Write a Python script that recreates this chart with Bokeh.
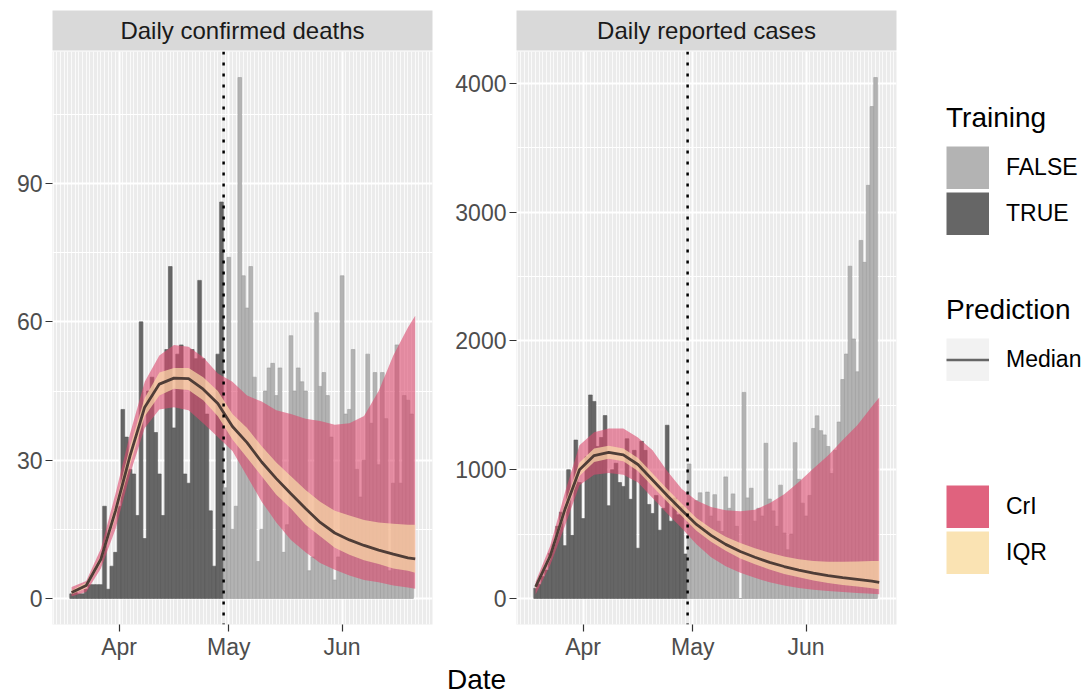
import pandas as pd
from bokeh.plotting import figure
from bokeh.models import (ColumnDataSource, FixedTicker, DatetimeTickFormatter, Range1d,
                          Span, Label, Legend, LegendItem)
from bokeh.layouts import row, column
from bokeh.core.properties import value
from bokeh.embed import file_html
from bokeh.resources import INLINE

FONT = "Liberation Sans"

# ---------------- data ----------------
first_day = "2020-03-19"
last_day = "2020-06-20"
n_training = 42
cutoff = "2020-04-29 14:00"

deaths_training = [1, 2, 1, 1, 2, 3, 3, 3, 3, 20, 2, 7, 10, 20, 41, 35, 28, 27, 18, 60,
                   13, 45, 48, 36, 27, 18, 54, 72, 37, 53, 55, 27, 25, 54, 52, 69, 52, 40,
                   19, 7, 53, 86]
deaths_testing = [24,
                  74, 15, 20, 113, 70, 63, 72, 48, 8, 15, 45, 50, 51, 44, 50, 10, 16, 57, 45,
                  50, 47, 45, 6, 9, 62, 46, 49, 44, 35, 4, 9,
                  70, 40, 41, 54, 28, 22, 30, 53, 38, 49, 29, 49, 39, 6, 25, 55, 25, 44, 43, 40]

cases_training = [80, 110, 170, 220, 350, 420, 560, 670, 410, 1000, 490, 1230, 900, 620,
                  1100, 1580, 1530, 1180, 1250, 1420, 720, 1000, 1050, 900, 870, 1240, 770,
                  1150, 390, 1220, 1150, 730, 660, 800, 530, 700, 1345, 600, 780, 650, 715, 345]
cases_testing = [1044, 620, 760, 820, 560, 826, 640, 806, 600, 520, 944, 700, 812, 560, 0,
                 1600, 781, 856, 600, 700, 640, 1205, 772, 680, 560, 880, 508, 378, 500, 1210,
                 925, 740, 640, 800, 1320, 1418, 1303, 1270, 1180, 970, 1150, 1370, 1700, 1898,
                 2580, 2015, 1760, 2780, 2610, 3208, 3820, 4045]

ribbon_dates = ["2020-03-19", "2020-03-23", "2020-03-27", "2020-03-31", "2020-04-04",
                "2020-04-08", "2020-04-12", "2020-04-16", "2020-04-20", "2020-04-24",
                "2020-04-28", "2020-05-02", "2020-05-06", "2020-05-10", "2020-05-14",
                "2020-05-18", "2020-05-22", "2020-05-26", "2020-05-30", "2020-06-03",
                "2020-06-07", "2020-06-11", "2020-06-15", "2020-06-19", "2020-06-21"]

deaths_median = [1.3, 2.8, 8.5, 19, 31, 41.5, 46.5, 47.8, 47.7, 45.4, 42.3, 37.3, 33.8, 29.6,
                 26, 22.7, 19.5, 16.5, 14.2, 12.7, 11.5, 10.5, 9.6, 8.8, 8.6]
deaths_iqr_lo = [0.9, 2.2, 7.7, 17.5, 29, 39.5, 44, 45.5, 45.2, 43, 39.5, 34.5, 30.5, 26.5,
                 22.5, 19.5, 16, 13.5, 11, 9.5, 8.3, 7.5, 6.5, 6, 5.6]
deaths_iqr_hi = [1.8, 3.4, 9.3, 20.5, 33, 43.5, 49, 50, 50, 48, 45, 40, 37, 33, 29.5, 26.5,
                 23.5, 21, 19, 18, 17, 16.5, 16.2, 16, 16]
deaths_cri_lo = [0.5, 1.4, 6.5, 15, 27, 37, 41, 41.5, 40.8, 38, 35, 32, 26.5, 21, 16.5, 12.7,
                 10, 7.7, 6.2, 5, 4, 3.5, 2.8, 2.4, 2.1]
deaths_cri_hi = [2.5, 3.8, 10.8, 22.7, 35.8, 47, 52.7, 55, 54.6, 52.3, 48.8, 47, 44, 42.7,
                 40.8, 40, 39, 38.5, 37.7, 38, 39.6, 45, 52.7, 58.8, 61.3]

cases_median = [90, 330, 690, 1000, 1110, 1135, 1115, 1040, 920, 800, 685, 575, 490, 420, 365,
                320, 280, 248, 220, 197, 178, 162, 148, 134, 125]
cases_iqr_lo = [75, 300, 645, 950, 1060, 1085, 1065, 990, 870, 750, 640, 525, 440, 370, 310,
                265, 225, 190, 165, 140, 120, 105, 92, 80, 72]
cases_iqr_hi = [110, 360, 735, 1055, 1165, 1185, 1165, 1090, 970, 850, 735, 625, 545, 480,
                430, 390, 355, 325, 305, 290, 285, 285, 287, 290, 290]
cases_cri_lo = [30, 260, 560, 880, 960, 975, 960, 900, 780, 660, 545, 420, 320, 250, 200, 160,
                125, 100, 82, 68, 58, 50, 43, 37, 33]
cases_cri_hi = [130, 410, 820, 1190, 1290, 1320, 1320, 1250, 1150, 990, 850, 760, 710, 685,
                678, 688, 740, 810, 905, 1010, 1110, 1230, 1345, 1490, 1560]

month_ticks = ["2020-04-01", "2020-05-01", "2020-06-01"]
deaths_yticks = [0, 30, 60, 90]
deaths_yminor = [15, 45, 75, 105]
cases_yticks = [0, 1000, 2000, 3000, 4000]
cases_yminor = [500, 1500, 2500, 3500]

titles = ["Daily confirmed deaths", "Daily reported cases"]

# ---------------- helpers ----------------
DAY = 86400000.0
NAN = float("nan")


def ms(t):
    return pd.Timestamp(t).value / 1e6


dates = pd.date_range(first_day, last_day, freq="D")
rdates = pd.to_datetime(ribbon_dates)

x_lo = ms(dates[0]) - 0.5 * DAY
x_hi = max(ms(rdates[-1]), ms(dates[-1]) + 0.5 * DAY)
x_pad = 0.05 * (x_hi - x_lo)
x_range = Range1d(start=x_lo - x_pad, end=x_hi + x_pad)

minor_days = [ms(d) for d in pd.date_range("2020-03-01", "2020-07-10", freq="D")]

CRI = "#DC4A6E"
IQR = "#FBDDA8"

PANEL_H = 611   # frame 576 px + 35 px for the date axis


def make_panel(train_vals, test_vals, med, ilo, ihi, clo, chi, yticks, yminor,
               border_left, width):
    ymax = max(max(train_vals), max(test_vals), max(chi))
    p = figure(width=width, height=PANEL_H, x_range=x_range,
               y_range=Range1d(-0.05 * ymax, 1.05 * ymax),
               x_axis_type="datetime", output_backend="svg", toolbar_location=None,
               min_border_left=border_left, min_border_right=10, min_border_top=0,
               min_border_bottom=35, background_fill_color="#EBEBEB",
               border_fill_color="white", outline_line_color=None)
    tr = ColumnDataSource(dict(date=dates[:n_training], n=train_vals))
    te = ColumnDataSource(dict(date=dates[n_training:], n=test_vals))
    p.vbar(x="date", top="n", bottom=0, width=DAY, source=tr, fill_color="#666666",
           line_color="#575757", line_width=0.6)
    p.vbar(x="date", top="n", bottom=0, width=DAY, source=te, fill_color="#B3B3B3",
           line_color="#9E9E9E", line_width=0.6)
    rib = ColumnDataSource(dict(date=rdates, med=med, ilo=ilo, ihi=ihi, clo=clo, chi=chi))
    p.varea(x="date", y1="clo", y2="chi", source=rib, fill_color=CRI, fill_alpha=0.6)
    p.varea(x="date", y1="ilo", y2="ihi", source=rib, fill_color=IQR, fill_alpha=0.7)
    p.line(x="date", y="med", source=rib, line_color="#4F3D37", line_width=2.8)
    p.add_layout(Span(location=ms(cutoff), dimension="height", line_color="black",
                      line_width=2.5, line_dash="3 8"))

    p.xaxis.ticker = FixedTicker(ticks=[ms(t) for t in month_ticks], minor_ticks=minor_days)
    p.xaxis.formatter = DatetimeTickFormatter(days="%b", months="%b", years="%b",
                                              hours="%b", minutes="%b")
    p.yaxis.ticker = FixedTicker(ticks=yticks, minor_ticks=yminor)
    for ax in (p.xaxis, p.yaxis):
        ax.axis_line_color = None
        ax.major_tick_line_color = "#333333"
        ax.major_tick_line_width = 1.2
        ax.major_tick_out = 7
        ax.major_tick_in = 0
        ax.minor_tick_line_color = None
        ax.major_label_standoff = 2
        ax.major_label_text_font = FONT
        ax.major_label_text_font_size = "23px"
        ax.major_label_text_color = "#4D4D4D"
    p.yaxis.major_label_standoff = 3
    p.grid.grid_line_color = "white"
    p.grid.grid_line_width = 2
    p.grid.minor_grid_line_color = "white"
    p.grid.minor_grid_line_width = 1
    p.xgrid.minor_grid_line_alpha = 0.75
    return p


def make_strip(text, width, border_left):
    s = figure(width=width, height=51, x_range=Range1d(0, 1), y_range=Range1d(0, 1),
               output_backend="svg", toolbar_location=None, min_border_left=border_left,
               min_border_right=10, min_border_top=10, min_border_bottom=1,
               background_fill_color="#D9D9D9", border_fill_color="white",
               outline_line_color=None, x_axis_location=None, y_axis_location=None)
    s.grid.visible = False
    s.add_layout(Label(x=0.5, y=0.5, text=text, text_align="center", text_baseline="middle",
                       text_font=FONT, text_font_size="24px", text_color="#1A1A1A"))
    return s


p1 = make_panel(deaths_training, deaths_testing, deaths_median, deaths_iqr_lo, deaths_iqr_hi,
                deaths_cri_lo, deaths_cri_hi, deaths_yticks, deaths_yminor, 52, 442)
p2 = make_panel(cases_training, cases_testing, cases_median, cases_iqr_lo, cases_iqr_hi,
                cases_cri_lo, cases_cri_hi, cases_yticks, cases_yminor, 74, 464)
s1 = make_strip(titles[0], 442, 52)
s2 = make_strip(titles[1], 464, 74)

date_fig = figure(width=906, height=33, x_range=Range1d(0, 1), y_range=Range1d(0, 1),
                  output_backend="svg", toolbar_location=None, min_border=0,
                  min_border_left=0, min_border_right=0, min_border_top=0, min_border_bottom=0,
                  outline_line_color=None, x_axis_location=None, y_axis_location=None,
                  background_fill_color="white", border_fill_color="white")
date_fig.grid.visible = False
date_fig.add_layout(Label(x=476, y=16, x_units="screen", y_units="screen", text="Date",
                          text_align="center", text_baseline="middle", text_font=FONT,
                          text_font_size="28px", text_color="black"))

# ---------------- legend ----------------
leg = figure(width=182, height=695, x_range=Range1d(0, 1), y_range=Range1d(0, 1),
             output_backend="svg", toolbar_location=None, min_border=0, min_border_left=0,
             min_border_right=0, min_border_top=0, min_border_bottom=0,
             outline_line_color=None, x_axis_location=None, y_axis_location=None,
             background_fill_color="white", border_fill_color="white")
leg.grid.visible = False


def key_swatch(color, width=43):
    # a wide butt-capped line fills the whole legend key box
    return leg.line(x=[NAN, NAN], y=[NAN, NAN], line_color=color, line_width=width,
                    line_cap="butt")


r_false = key_swatch("#B3B3B3")
r_true = key_swatch("#666666")
r_bg = key_swatch("#F2F2F2")
r_med = key_swatch("#666666", 2.6)
r_cri = key_swatch("#E0627E")
r_iqr = key_swatch("#FAE3B3")

common = dict(orientation="vertical", glyph_width=43, glyph_height=43, label_height=43,
              spacing=3, padding=0, margin=0, label_standoff=17, label_text_font=FONT,
              label_text_font_size="23px", label_text_color="black", title_text_font=FONT,
              title_text_font_size="28px", title_text_font_style="normal",
              title_text_color="black", title_standoff=12, border_line_color=None,
              background_fill_alpha=0)

leg.add_layout(Legend(items=[LegendItem(label=value("FALSE"), renderers=[r_false]),
                             LegendItem(label=value("TRUE"), renderers=[r_true])],
                      title="Training", location=(40, 460), **common))
leg.add_layout(Legend(items=[LegendItem(label=value("Median"), renderers=[r_bg, r_med])],
                      title="Prediction", location=(40, 314), **common))
leg.add_layout(Legend(items=[LegendItem(label=value("CrI"), renderers=[r_cri]),
                             LegendItem(label=value("IQR"), renderers=[r_iqr])],
                      location=(40, 121), **common))

layout = row(column(row(s1, s2), row(p1, p2), date_fig), leg)

open("out.html", "w").write(file_html(layout, INLINE))
